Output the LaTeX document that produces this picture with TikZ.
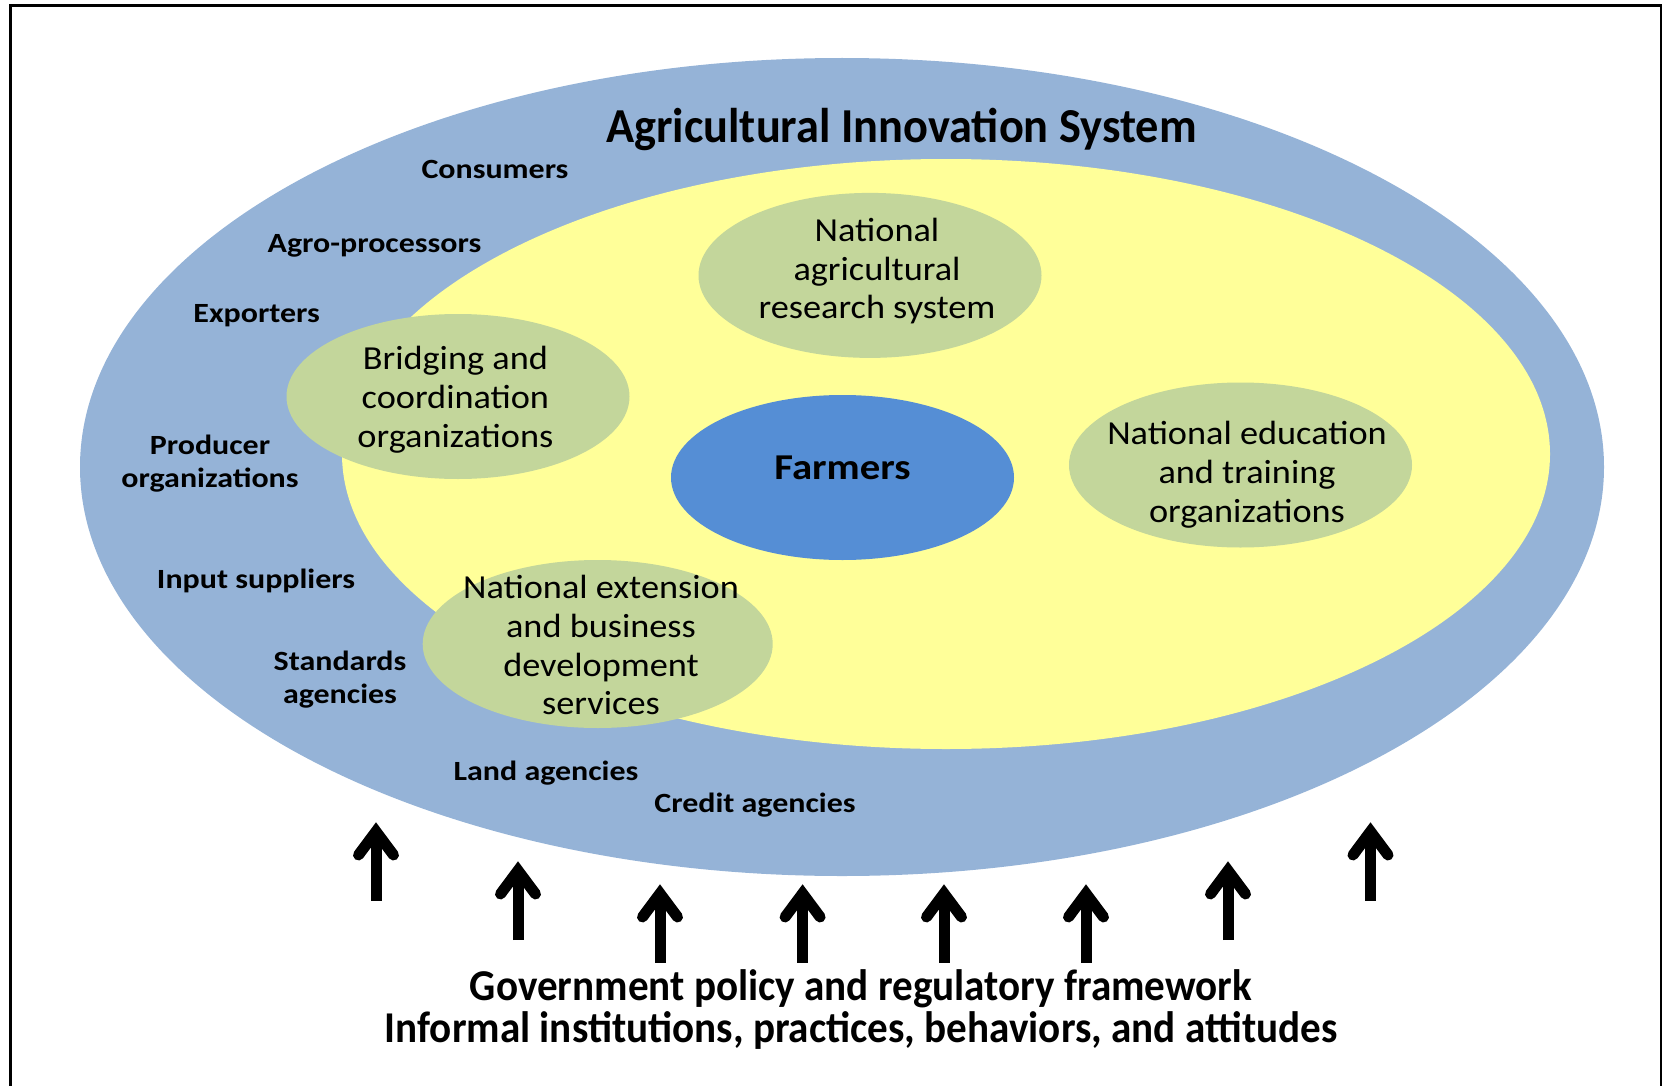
\documentclass[tikz,border=0pt]{standalone}
\usepackage{fontspec}
\setmainfont{Carlito}
\newfontfamily\titlefont[FakeStretch=0.95]{Carlito}
\newfontfamily\lblfont[FakeStretch=1.15]{Carlito}
\newfontfamily\grnfont[FakeStretch=1.08]{Carlito}
\newfontfamily\farmfont[FakeStretch=1.12]{Carlito}
\newfontfamily\botfont[FakeStretch=0.935]{Carlito}
\usetikzlibrary{shapes.geometric,calc}
\definecolor{outerblue}{HTML}{95B3D7}
\definecolor{inneryellow}{HTML}{FFFF99}
\definecolor{orggreen}{HTML}{C3D69B}
\definecolor{farmblue}{HTML}{558ED5}
\tikzset{
  orgell/.style={ellipse,fill=orggreen,inner sep=0pt,minimum width=171.5pt,minimum height=82.5pt},
  orgtext/.style={align=center,inner sep=0pt,font=\grnfont\fontsize{16.8}{19.4}\selectfont},
  actor/.style={anchor=base,align=center,inner sep=0pt,font=\lblfont\bfseries\fontsize{13.9}{16.2}\selectfont},
  frametext/.style={anchor=base,inner sep=0pt,font=\botfont\bfseries\fontsize{22}{25}\selectfont},
  arrowshaft/.style={line width=5.5pt,line cap=butt},
  arrowhead/.style={line width=5.5pt,line cap=round,line join=miter},
}
\begin{document}
\begin{tikzpicture}[x=0.5pt,y=-0.5pt]
\useasboundingbox (0,0) rectangle (1665,1086);
% frame
\draw[line width=1.25pt] (10.7,1086) -- (10.7,5.7) -- (1661,5.7) -- (1661,1086);
% system ellipses
\fill[outerblue] (842,467) ellipse [x radius=762, y radius=409];
\fill[inneryellow] (946,454) ellipse [x radius=604, y radius=295];
% title
\node[anchor=base,inner sep=0pt,font=\titlefont\bfseries\fontsize{24.4}{28}\selectfont] (title) at (901.5,142) {Agricultural Innovation System};
% organisations
\node[orgell] (nars) at (870,275.4) {};
\node[orgell] (bridge) at (458,396.5) {};
\node[orgell] (edu) at (1240.5,465) {};
\node[orgell,minimum width=175pt,minimum height=84pt] (ext) at (597.7,644) {};
\node[orgtext] (narsT) at (877,271.2) {National\\agricultural\\research system};
\node[orgtext] (bridgeT) at (455.4,399.6) {Bridging and\\coordination\\organizations};
\node[orgtext] (eduT) at (1247,475) {National education\\and training\\organizations};
\node[orgtext] (extT) at (601,645.1) {National extension\\and business\\development\\services};
\node[ellipse,fill=farmblue,inner sep=0pt,minimum width=171.5pt,minimum height=82.5pt] (farmers) at (842.5,477.5) {};
\node[anchor=base,inner sep=0pt,font=\farmfont\bfseries\fontsize{18.2}{21}\selectfont] (farmersT) at (842.5,479) {Farmers};
% actors
\node[actor] (consumers) at (495,178.3) {Consumers};
\node[actor] (agro) at (374.5,252.7) {Agro-processors};
\node[actor] (exporters) at (256.7,322.7) {Exporters};
\node[actor] (producer) at (210,487.3) {Producer\\organizations};
\node[actor] (input) at (256,588.3) {Input suppliers};
\node[actor] (standards) at (340,703.3) {Standards\\agencies};
\node[actor] (land) at (546,780.7) {Land agencies};
\node[actor] (credit) at (755,812.7) {Credit agencies};
% arrows
\foreach \i/\x/\t/\b in {1/376/822/900.7,2/518/861/940,3/660/884/962.7,4/802.6/884/962.7,5/944/884/962.7,6/1086/884/962.7,7/1228/861/940,8/1370.5/822/900.7}{
  \coordinate (arB\i) at (\x,\b);
  \coordinate (arT\i) at (\x,\t);
  \draw[arrowshaft] (arB\i) -- ($(arT\i)+(0,9.5)$);
  \draw[arrowhead] ($(arT\i)+(-17.5,33)$) -- ($(arT\i)+(0,9.5)$) -- ($(arT\i)+(17.5,33)$);
}
% framework text
\node[frametext] (gov) at (861,1000) {Government policy and regulatory framework};
\node[frametext] (inf) at (861,1042.5) {Informal institutions, practices, behaviors, and attitudes};
\end{tikzpicture}
\end{document}
